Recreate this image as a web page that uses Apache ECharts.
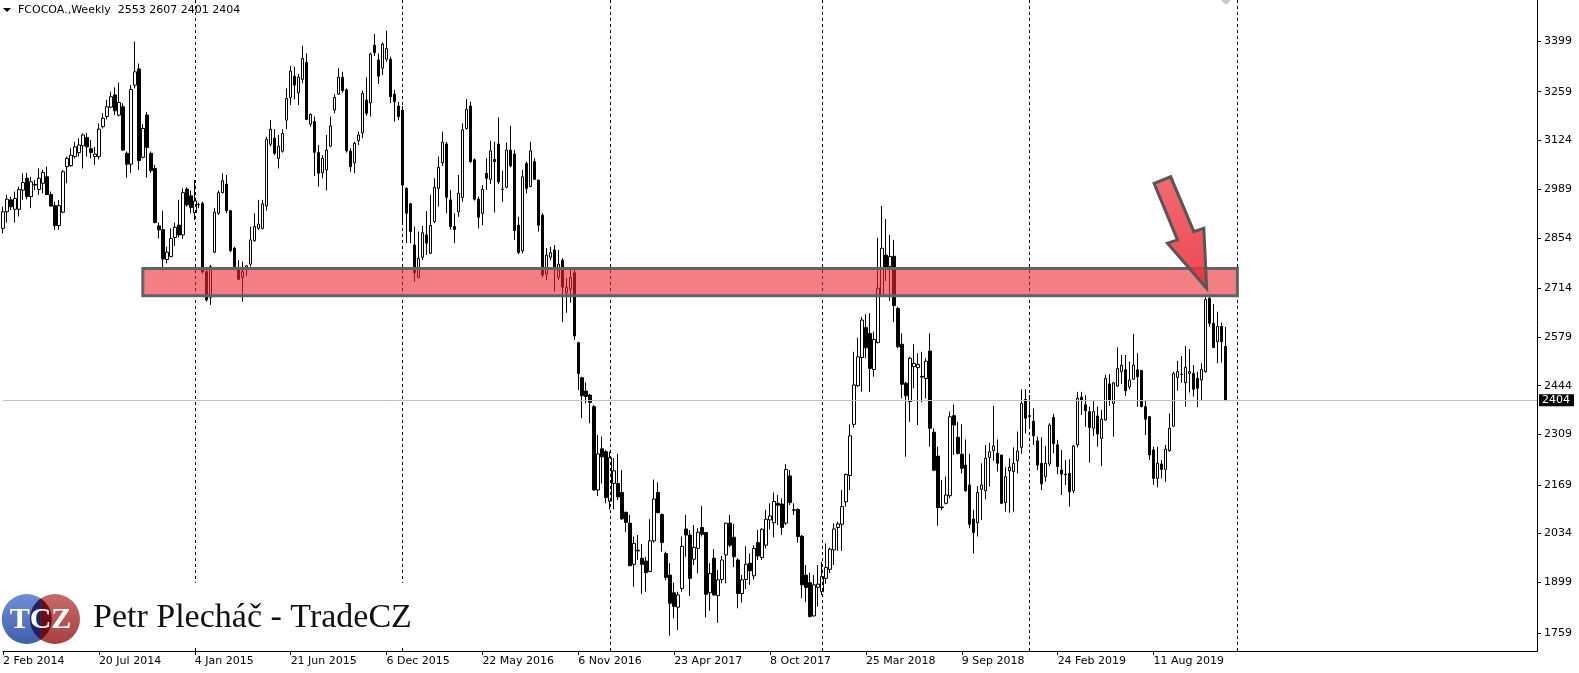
<!DOCTYPE html>
<html><head><meta charset="utf-8">
<script src="https://cdn.jsdelivr.net/npm/echarts@6/dist/echarts.min.js"></script>
<style>html,body{margin:0;padding:0;background:#fff}#c{width:1579px;height:673px}</style>
</head><body><div id="c"></div>
<script>
// Weekly bars: [open, high, low, close], first bar = week of 2 Feb 2014
const weeklyOHLC = [
[2880,2940,2866,2926],[2926,2973,2896,2961],[2959,2968,2931,2940],[2933,2982,2896,2963],[2933,2996,2913,2988],
[2986,3033,2959,3007],[3019,3034,2961,2968],[2968,3023,2936,3009],[3000,3014,2986,3002],[2988,3046,2973,3019],
[3005,3042,2977,3035],[3023,3051,2973,2974],[2974,2982,2940,2942],[2943,2954,2876,2888],[2888,2959,2876,2943],
[2925,3042,2922,3037],[3051,3079,3005,3074],[3054,3102,3051,3083],[3079,3120,3074,3106],[3090,3130,3079,3111],
[3109,3143,3046,3139],[3132,3145,3079,3106],[3101,3125,3074,3090],[3079,3106,3056,3086],[3079,3171,3071,3155],
[3162,3199,3157,3185],[3190,3236,3182,3217],[3216,3259,3213,3245],[3250,3271,3194,3206],[3194,3284,3190,3229],
[3217,3227,3095,3097],[3088,3093,3021,3058],[3058,3277,3034,3265],[3277,3398,3268,3314],[3322,3337,3042,3068],
[3077,3169,3074,3157],[3194,3203,3021,3104],[3088,3093,3034,3040],[3046,3056,2894,2896],[2887,2896,2852,2876],
[2877,2929,2763,2795],[2794,2829,2783,2814],[2802,2880,2800,2852],[2855,2896,2831,2883],[2889,2959,2855,2862],
[2862,2991,2851,2979],[2989,2994,2940,2945],[2970,2985,2922,2938],[2924,3014,2903,2956],[2945,2951,2936,2946],
[2949,2954,2754,2760],[2760,2765,2677,2682],[2689,2778,2668,2774],[2814,2936,2811,2925],[2922,2985,2917,2979],
[2979,3033,2977,3012],[3003,3028,2922,2929],[2929,2931,2814,2818],[2825,2829,2767,2774],[2767,2792,2737,2739],
[2744,2788,2677,2760],[2769,2778,2748,2776],[2781,2885,2774,2848],[2846,2922,2843,2885],[2880,2959,2876,2892],
[2880,2959,2877,2948],[2942,3134,2929,3127],[3113,3180,3107,3155],[3130,3155,3083,3088],[3074,3139,3046,3108],
[3094,3155,3090,3143],[3180,3268,3155,3240],[3243,3330,3222,3316],[3302,3328,3238,3277],[3256,3308,3222,3299],
[3293,3386,3282,3351],[3340,3365,3180,3182],[3169,3199,3162,3196],[3176,3190,3025,3091],[3090,3111,2996,3033],
[3034,3083,3019,3074],[3042,3139,2985,3097],[3108,3190,3105,3164],[3208,3252,3199,3243],[3252,3324,3250,3299],
[3299,3314,3256,3262],[3264,3268,3090,3095],[3094,3102,3037,3051],[3062,3120,3033,3116],[3123,3148,3111,3139],
[3145,3262,3130,3254],[3236,3299,3192,3199],[3228,3367,3190,3363],[3388,3419,3358,3367],[3347,3365,3280,3302],
[3324,3395,3305,3391],[3349,3428,3342,3379],[3349,3356,3227,3245],[3252,3264,3176,3231],[3219,3231,3180,3190],
[3208,3219,2894,3000],[2991,2994,2839,2922],[2948,2951,2839,2871],[2834,2885,2732,2757],[2744,2871,2742,2797],
[2800,2887,2792,2868],[2862,2928,2806,2839],[2811,2973,2809,2888],[2899,3019,2894,2994],[2991,3079,2940,3049],
[3062,3148,3053,3119],[3114,3120,2922,2966],[2959,2986,2877,2885],[2885,2922,2839,2877],[2926,3028,2912,2977],
[2966,3171,2954,3153],[3157,3238,3153,3210],[3219,3231,3062,3065],[3070,3074,2957,2961],[2961,2968,2880,2911],
[2922,3000,2889,2988],[3033,3074,2986,3019],[3016,3123,3003,3095],[3071,3120,2924,3065],[3114,3188,3003,3009],
[2989,3040,2954,2988],[2994,3118,2991,3097],[3097,3164,3049,3053],[3086,3097,2848,2874],[2889,2912,2809,2813],
[2818,3042,2811,3023],[3060,3065,2977,2991],[2996,3120,2994,3095],[3065,3074,3014,3016],[3014,3014,2871,2889],
[2917,2922,2744,2751],[2754,2825,2737,2806],[2800,2829,2792,2813],[2820,2834,2705,2769],[2744,2820,2737,2781],
[2792,2797,2621,2717],[2702,2742,2646,2717],[2711,2769,2674,2744],[2757,2767,2571,2582],[2563,2566,2432,2478],
[2466,2469,2354,2416],[2429,2453,2395,2414],[2418,2421,2340,2398],[2386,2390,2153,2155],[2155,2307,2138,2255],
[2269,2303,2173,2247],[2261,2266,2118,2134],[2124,2261,2101,2245],[2173,2243,2101,2208],[2173,2255,2127,2136],
[2148,2210,2072,2075],[2093,2095,2039,2065],[2063,2086,1944,1945],[1949,2026,1887,2007],[1986,2030,1961,1988],
[1966,2005,1867,1949],[1958,1970,1873,1926],[1929,2074,1927,2014],[2014,2184,2009,2130],[2148,2176,2090,2092],
[2087,2090,1984,2009],[1979,1984,1905,1912],[1919,1952,1751,1841],[1870,1898,1799,1832],[1830,1873,1767,1864],
[1882,2026,1873,1999],[2047,2086,1970,2030],[2030,2044,1861,1910],[1963,2058,1947,1996],[1993,2049,1924,2038],
[2051,2111,2026,2032],[2037,2039,1802,1866],[1870,1952,1820,1924],[1966,1991,1862,1864],[1862,1933,1787,1906],
[1907,1972,1896,1961],[1975,2064,1896,2063],[2063,2086,1996,2002],[2024,2061,1941,1970],[1961,1966,1827,1868],
[1868,1919,1843,1906],[1907,1999,1880,1949],[1952,1979,1892,1931],[1917,2002,1907,1993],[2009,2044,1961,1972],
[1968,2049,1961,2046],[2002,2100,1993,2074],[2072,2118,2046,2083],[2064,2148,2024,2123],[2118,2141,2058,2113],
[2116,2132,2030,2051],[2063,2227,2058,2212],[2194,2210,2113,2120],[2100,2118,2086,2099],[2101,2104,2009,2026],
[2027,2030,1855,1892],[1919,1947,1845,1885],[1898,1926,1802,1804],[1806,1919,1804,1892],[1885,1947,1832,1894],
[1873,1956,1864,1915],[1910,2007,1895,1940],[1935,1995,1925,1991],[1989,2062,1947,2047],[2051,2067,1986,2061],
[2060,2155,1986,2109],[2122,2201,2109,2198],[2195,2337,2155,2305],[2337,2538,2328,2446],[2444,2577,2441,2524],
[2522,2635,2427,2626],[2605,2642,2520,2549],[2589,2645,2427,2492],[2489,2594,2469,2572],[2564,2854,2561,2714],
[2693,2942,2691,2825],[2806,2906,2734,2771],[2774,2862,2679,2802],[2803,2848,2621,2666],[2658,2663,2548,2552],
[2559,2589,2409,2448],[2451,2455,2247,2416],[2400,2524,2344,2520],[2497,2559,2437,2506],[2494,2534,2335,2503],
[2470,2538,2398,2468],[2464,2520,2409,2512],[2540,2589,2275,2326],[2315,2326,2207,2210],[2249,2275,2056,2106],
[2108,2183,2099,2106],[2118,2192,2115,2141],[2139,2372,2132,2358],[2361,2392,2252,2335],[2301,2344,2254,2256],
[2254,2337,2201,2215],[2224,2295,2150,2153],[2169,2255,2049,2060],[2074,2100,1979,2037],[2064,2166,2026,2148],
[2157,2229,2072,2169],[2153,2280,2129,2243],[2245,2286,2164,2261],[2264,2388,2236,2277],[2257,2295,2206,2229],
[2252,2252,2116,2118],[2120,2218,2095,2192],[2208,2243,2092,2218],[2206,2273,2095,2229],[2236,2317,2201,2263],
[2273,2434,2255,2395],[2406,2434,2312,2354],[2361,2418,2326,2359],[2346,2381,2280,2305],[2291,2303,2210,2224],
[2229,2301,2155,2172],[2192,2277,2178,2229],[2227,2340,2221,2335],[2356,2366,2257,2284],[2280,2294,2199,2220],
[2210,2266,2141,2199],[2199,2238,2169,2197],[2201,2240,2109,2150],[2153,2280,2146,2277],[2280,2427,2273,2409],
[2412,2427,2363,2404],[2391,2418,2330,2375],[2372,2386,2231,2328],[2326,2404,2305,2372],[2360,2386,2275,2310],
[2298,2377,2221,2351],[2349,2474,2347,2464],[2449,2476,2388,2403],[2395,2455,2303,2452],[2443,2550,2441,2492],
[2483,2529,2449,2501],[2488,2529,2415,2430],[2441,2511,2434,2460],[2462,2587,2460,2501],[2488,2534,2386,2469],
[2486,2488,2384,2386],[2386,2403,2307,2351],[2358,2360,2238,2252],[2266,2275,2169,2187],[2187,2275,2162,2229],
[2227,2238,2187,2212],[2212,2280,2178,2268],[2264,2367,2261,2326],[2332,2483,2331,2478],[2467,2513,2430,2483],
[2476,2526,2452,2475],[2452,2554,2386,2495],[2478,2545,2425,2483],[2478,2501,2414,2434],[2464,2483,2384,2437],
[2460,2506,2404,2489],[2483,2691,2480,2683],[2686,2693,2608,2617],[2617,2670,2548,2550],[2566,2649,2506,2608],
[2608,2619,2508,2566],[2553,2607,2401,2404]
];
const slotCount = 385;              // weekly slots on the axis (incl. empty right margin)
const labelEvery = 24;              // date label every 24 weeks
const lastLabelIndex = 288;         // "11 Aug 2019"
const separatorIdx = [48, 100, 152, 205, 257, 309];   // first week of each year
const yTickLabels = [1759, 1899, 2034, 2169, 2309, 2444, 2579, 2714, 2854, 2989, 3124, 3259, 3399];
const yMin = 1708.7, yMax = 3513;
const zoneTop = 2769, zoneBottom = 2693, zoneFrom = 35, zoneTo = 309;
const lastPrice = 2404;
const titleText = 'FCOCOA.,Weekly  2553 2607 2401 2404';
// arrow outline in (week index, price)
const arrowPts = [[288.15,3005],[292.3,3023],[298.1,2871],[300.6,2880],[301.3,2714],[291.5,2839],[294.0,2848]];

const months = ['Jan','Feb','Mar','Apr','May','Jun','Jul','Aug','Sep','Oct','Nov','Dec'];
const t0 = Date.UTC(2014, 1, 2);
const categories = [];
for (let i = 0; i < slotCount; i++) {
  const d = new Date(t0 + i * 7 * 86400000);
  categories.push(d.getUTCDate() + ' ' + months[d.getUTCMonth()] + ' ' + d.getUTCFullYear());
}
const candleData = weeklyOHLC.map(r => [r[0], r[3], r[2], r[1]]);
const showLbl = (i) => i % labelEvery === 0 && i <= lastLabelIndex;

const chart = echarts.init(document.getElementById('c'), null, {renderer: 'canvas'});
const FONT = 'DejaVu Sans';
const option = {
  animation: false,
  backgroundColor: '#ffffff',
  grid: {left: 0, right: 42, top: 0, bottom: 22, containLabel: false},
  xAxis: {
    type: 'category', data: categories, boundaryGap: false,
    axisLine: {show: true, lineStyle: {color: '#000', width: 1}},
    axisTick: {show: true, length: 4, interval: showLbl, lineStyle: {color: '#000'}},
    axisLabel: {interval: showLbl, align: 'left', color: '#000', fontFamily: FONT, fontSize: 11, margin: 5},
    splitLine: {show: false}
  },
  yAxis: {
    type: 'value', position: 'right', min: yMin, max: yMax, scale: true,
    axisLine: {show: true, lineStyle: {color: '#000', width: 1}},
    axisTick: {show: true, length: 4, customValues: yTickLabels, lineStyle: {color: '#000'}},
    axisLabel: {customValues: yTickLabels, color: '#000', fontFamily: FONT, fontSize: 11, margin: 7,
      formatter: v => String(Math.round(v))},
    splitLine: {show: false}
  },
  series: [
    {
      type: 'line', data: [], z: 1, silent: true,
      markLine: {
        silent: true, symbol: ['none', 'none'], animation: false,
        label: {show: false},
        lineStyle: {color: '#000', type: [3, 3], width: 1},
        data: separatorIdx.map(i => ({xAxis: categories[i]}))
      }
    },
    {
      type: 'line', data: [], z: 1, silent: true,
      markLine: {
        silent: true, symbol: ['none', 'none'], animation: false,
        lineStyle: {color: '#c0c0c0', type: 'solid', width: 1},
        label: {show: true, position: 'end', distance: 2, formatter: String(lastPrice),
          backgroundColor: '#000', color: '#fff', fontFamily: FONT, fontSize: 11, padding: [1, 4, 0, 3]},
        data: [{yAxis: lastPrice}]
      }
    },
    {
      type: 'candlestick', data: candleData, barWidth: 3, z: 3, large: false,
      itemStyle: {color: '#ffffff', color0: '#000000', borderColor: '#000000', borderColor0: '#000000', borderWidth: 1}
    },
    {
      type: 'line', data: [], z: 10, silent: true,
      markArea: {
        silent: true, z: 10,
        itemStyle: {color: 'rgba(235,40,50,0.6)', borderColor: '#636363', borderWidth: 3},
        data: [[{xAxis: categories[zoneFrom], yAxis: zoneTop}, {xAxis: categories[zoneTo], yAxis: zoneBottom}]]
      }
    }
  ]
};
chart.setOption(option);

// annotation arrow, positioned through the axes
const p0 = chart.convertToPixel({gridIndex: 0}, [0, lastPrice]);
const p1 = chart.convertToPixel({gridIndex: 0}, [100, lastPrice]);
const step = (p1[0] - p0[0]) / 100;
const arrowPix = arrowPts.map(([i, v]) => [p0[0] + i * step, chart.convertToPixel({yAxisIndex: 0}, v)]);

// logo lens halves (circular segments), sampled
function segment(cx, cy, r, a0, a1) {
  const pts = [];
  for (let k = 0; k <= 24; k++) {
    const a = (a0 + (a1 - a0) * k / 24) * Math.PI / 180;
    pts.push([cx + r * Math.cos(a), cy + r * Math.sin(a)]);
  }
  return pts;
}
const halfAng = Math.acos(14.15 / 25) * 180 / Math.PI; // ~55.5
const lensLeft = segment(55, 619, 25, 180 - halfAng, 180 + halfAng);
const lensRight = segment(26.7, 619, 25, -halfAng, halfAng);

chart.setOption({
  graphic: [
    {type: 'polygon', z: 100, shape: {points: arrowPix},
      style: {fill: {type: 'linear', x: 0, y: 0, x2: 0, y2: 1,
        colorStops: [{offset: 0, color: 'rgba(240,95,102,0.92)'}, {offset: 1, color: 'rgba(232,40,52,0.85)'}]},
        stroke: '#565656', lineWidth: 3, lineJoin: 'miter'}},
    {type: 'polygon', z: 100, shape: {points: [[3, 8], [11, 8], [7, 12]]}, style: {fill: '#000'}},
    {type: 'text', z: 100, style: {x: 18, y: 10, text: titleText, fill: '#000', verticalAlign: 'middle',
      font: '11px "DejaVu Sans"'}},
    {type: 'polygon', z: 100, shape: {points: [[1221, 0], [1231, 0], [1226, 5]]}, style: {fill: '#c8c8c8'}},
    {type: 'rect', z: 100, shape: {x: 0, y: 583, width: 418, height: 64}, style: {fill: '#fff'}},
    {type: 'circle', z: 101, shape: {cx: 26.7, cy: 619, r: 25},
      style: {fill: {type: 'linear', x: 0, y: 0, x2: 0, y2: 1,
        colorStops: [{offset: 0, color: '#6f8fd4'}, {offset: 1, color: '#3f5fae'}]}}},
    {type: 'circle', z: 101, shape: {cx: 55, cy: 619, r: 25},
      style: {fill: {type: 'linear', x: 0, y: 0, x2: 0, y2: 1,
        colorStops: [{offset: 0, color: '#c56b6b'}, {offset: 1, color: '#a84040'}]}}},
    {type: 'polygon', z: 102, shape: {points: lensLeft}, style: {fill: '#1a2268'}},
    {type: 'polygon', z: 102, shape: {points: lensRight}, style: {fill: '#6b0d12'}},
    {type: 'text', z: 103, style: {x: 40.5, y: 620, text: 'TCZ', fill: '#fff', align: 'center', verticalAlign: 'middle',
      font: 'bold 30px "Liberation Serif"'}},
    {type: 'text', z: 103, style: {x: 93, y: 618, text: 'Petr Plecháč - TradeCZ', fill: '#111', align: 'left',
      verticalAlign: 'middle', font: '34px "Liberation Serif"'}}
  ]
});
</script>
</body></html>
